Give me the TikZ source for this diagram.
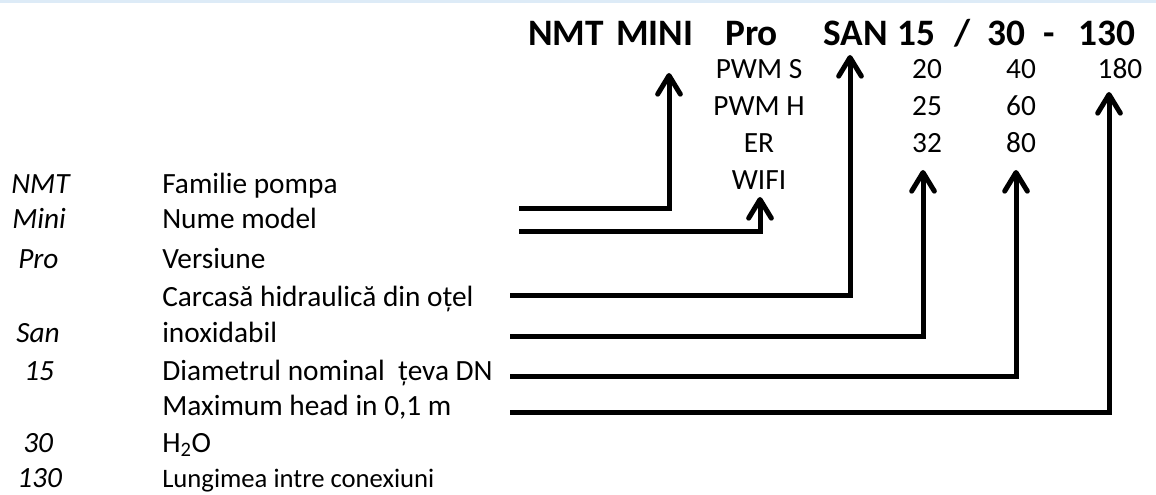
\documentclass[tikz,border=0pt]{standalone}
\usepackage{fontspec}
\setmainfont{Carlito}
\usetikzlibrary{arrows.meta}
\definecolor{bandblue}{HTML}{DDEBF7}
\tikzset{
code/.style={anchor=base west, inner sep=0pt, font=\bfseries\fontsize{28}{28}\selectfont}, % pump code on top
opt/.style={anchor=base, inner sep=0pt, font=\fontsize{22}{22}\selectfont}, % variants under the code
key/.style={anchor=base west, inner sep=0pt, font=\itshape\fontsize{22}{22}\selectfont}, % left column
desc/.style={anchor=base west, inner sep=0pt, font=\fontsize{22}{22}\selectfont}, % explanations
ptr/.style={line width=3.75pt, -{Straight Barb[length=14pt,width=17pt,round]}},
}

\begin{document}
\begin{tikzpicture}[x=0.75pt, y=-0.75pt]
    \useasboundingbox (0,0) rectangle (1156,495);
    \fill[bandblue] (0,0) rectangle (1156,3);

    % the code itself
    \node[code] (nmt) at (528,46) {NMT};
    \node[code] (mini) at (616,46) {MINI};
    \node[code] (pro) at (725,46) {Pro};
    \node[code] (san) at (823,46) {SAN};
    \node[code] (dn) at (897,46) {15};
    \node[code] (slash) at (954,46) {/};
    \node[code] (head) at (987,46) {30};
    \node[code] (dash) at (1043,46) {-};
    \node[code] (len) at (1078,46) {130};

    % variants
    \node[opt] (pwms) at (759,79) {PWM S};
    \node[opt] (pwmh) at (759,116) {PWM H};
    \node[opt] (er) at (759,153) {ER};
    \node[opt] (wifi) at (759,190) {WIFI};
    \node[opt] (d20) at (927,79) {20};
    \node[opt] (d25) at (927,116) {25};
    \node[opt] (d32) at (927,153) {32};
    \node[opt] (h40) at (1021,79) {40};
    \node[opt] (h60) at (1021,116) {60};
    \node[opt] (h80) at (1021,153) {80};
    \node[opt] (l180) at (1120,79) {180};

    % legend
    \node[key] (k1) at (11,194) {NMT};
    \node[key] (k2) at (12,229) {Mini};
    \node[key] (k3) at (18,269) {Pro};
    \node[key] (k4) at (16,342) {San};
    \node[key] (k5) at (24,380) {15};
    \node[key] (k6) at (23,452) {30};
    \node[key] (k7) at (17,487) {130};

    \node[desc] (e1) at (162,194) {Familie pompa};
    \node[desc] (e2) at (162,229) {Nume model};
    \node[desc] (e3) at (162,269) {Versiune};
    \node[desc] (e4) at (162,306) {Carcasă hidraulică din oțel};
    \node[desc] (e5) at (162,342) {inoxidabil};
    \node[desc] (e6) at (162,380) {Diametrul nominal\ \ țeva DN};
    \node[desc] (e7) at (162,415) {Maximum head in 0,1 m};
    \node[desc] (e8) at (162,452) {H\textsubscript{2}O};
    \node[desc, font=\fontsize{20}{20}\selectfont] (e9) at (162,487) {Lungimea intre conexiuni};

    % pointers
    \coordinate (s1) at (519,209);
    \coordinate (s2) at (519,232);
    \coordinate (s3) at (510,295);
    \coordinate (s4) at (510,336);
    \coordinate (s5) at (510,376);
    \coordinate (s6) at (510,412);
    \coordinate (t1) at (669,73);
    \coordinate (t2) at (760,197);
    \coordinate (t3) at (850,55);
    \coordinate (t4) at (923,170);
    \coordinate (t5) at (1016,170);
    \coordinate (t6) at (1109,92);
    \draw[ptr] (s1) -| (t1);
    \draw[ptr] (s2) -| (t2);
    \draw[ptr] (s3) -| (t3);
    \draw[ptr] (s4) -| (t4);
    \draw[ptr] (s5) -| (t5);
    \draw[ptr] (s6) -| (t6);
\end{tikzpicture}
\end{document}
